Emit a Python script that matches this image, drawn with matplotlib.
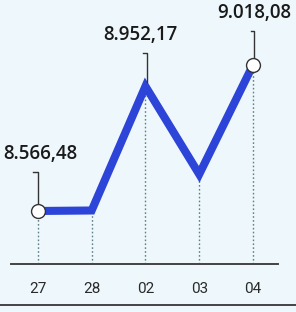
import matplotlib.pyplot as plt
from matplotlib.lines import Line2D

# Data
days = ["27", "28", "02", "03", "04"]
values = [8566.48, 8568.0, 8952.17, 8680.0, 9018.08]
labels = {0: "8.566,48", 2: "8.952,17", 4: "9.018,08"}
circles = [0, 4]

bg = "#eef8fc"
blue = "#2d44d8"
dark = "#333333"

fig = plt.figure(figsize=(2.96, 3.12), dpi=100, facecolor=bg)
ax = fig.add_axes([11 / 296, 1 - 264 / 312, 267 / 296, 264 / 312])
ax.set_facecolor(bg)

x = list(range(len(days)))
ax.set_xlim(-0.5, 4.465)
ax.set_ylim(8402.5, 9219.0)

# dotted drop lines
ax.vlines(x, 8402.5, values, colors="#5f8086", linestyles=(0, (1.2, 1.6)), lw=1.0, zorder=1)

# main line
ax.plot(x, values, color=blue, lw=5.8, solid_joinstyle="miter", solid_capstyle="butt", zorder=2)
ax.plot([x[i] for i in circles], [values[i] for i in circles], "o", ms=10,
        mfc="white", mec=dark, mew=1.0, zorder=3)

# leader lines + labels (offsets in pixels above the point)
inv = ax.transData.inverted()
leader = {0: (-5, 0, 7, 39, 0), 2: (-4, 2, 4, 33, -7), 4: (-3, 1, 7, 34, -1)}
for i, txt in labels.items():
    dx_tick, dx_line, gap, top, dx_txt = leader[i]
    px, py = ax.transData.transform((x[i], values[i]))
    pts = [(px + dx_line + dx_tick, py + top), (px + dx_line, py + top), (px + dx_line, py + gap)]
    data_pts = inv.transform(pts)
    ax.add_line(Line2D(data_pts[:, 0], data_pts[:, 1], color=dark, lw=1.0, clip_on=False))
    tx, ty = inv.transform((px + dx_txt + 2, py + top + 8))
    ax.text(tx, ty, txt, ha="center", va="bottom", fontsize=13.5, fontweight="semibold",
            family=["Open Sans", "DejaVu Sans"], color="#1a1a1a", clip_on=False)

ax.set_xticks(x)
ax.set_xticklabels(days, family=["Liberation Sans Narrow", "Roboto", "DejaVu Sans"], fontsize=11, color="#2a2a2a")
ax.tick_params(axis="x", length=0, pad=13)
ax.set_yticks([])
for s in ["top", "left", "right"]:
    ax.spines[s].set_visible(False)
ax.spines["bottom"].set_color("#444444")
ax.spines["bottom"].set_linewidth(1.4)

# bottom rule
fig.add_artist(Line2D([0, 1], [1 - 305 / 312] * 2, color="#444444", lw=1.4))

fig.savefig("out.png", dpi=100, facecolor=bg)
